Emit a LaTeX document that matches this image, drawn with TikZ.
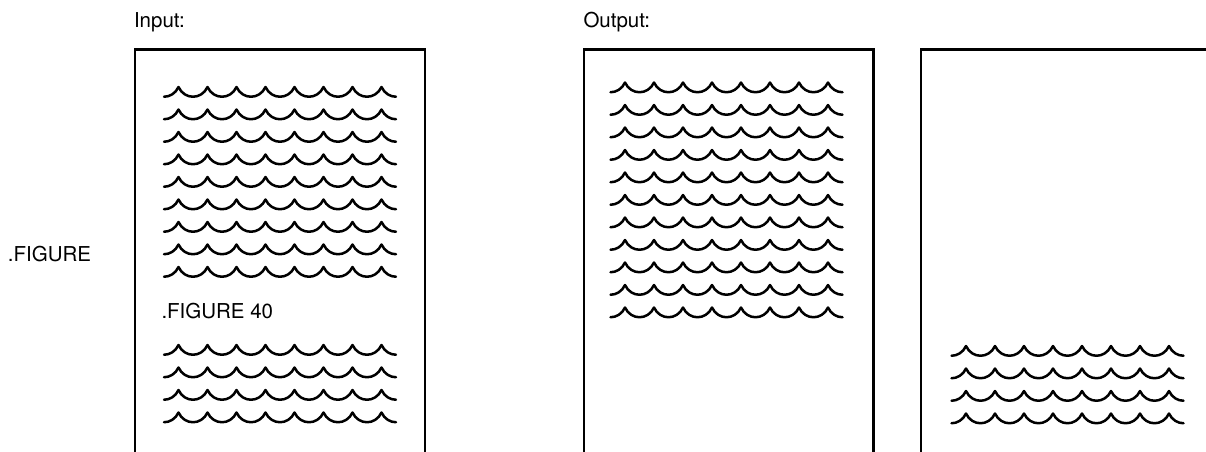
\documentclass[tikz,border=0pt]{standalone}
\usepackage{fontspec}
\setmainfont{TeX Gyre Heros}
\tikzset{
  boxline/.style={line width=2.7pt, line join=miter, line cap=butt},
  waveline/.style={line width=2.5pt, line cap=round, line join=round},
  lbl/.style={inner sep=0pt, outer sep=0pt, font=\fontsize{20.5}{24}\selectfont, anchor=base west},
  wave/.pic={
    \draw[waveline] (-14.5,9.75) .. controls (-8.75,9.75) and (-3,6.5) .. (0,0)
      \foreach \k in {0,...,6}{
        .. controls ({29*\k+6},13) and ({29*\k+23},13) .. ({29*(\k+1)},0)
      }
      .. controls (206,6.5) and (211.75,9.75) .. (217.5,9.75);
  }
}
\begin{document}
\begin{tikzpicture}[x=1pt,y=-1pt]
\useasboundingbox (0,0) rectangle (1206,451);
\clip (0,0) rectangle (1206,451);
% labels
\node[lbl] (inlbl) at (134,27) {Input:};
\node[lbl] (outlbl) at (583.5,27) {Output:};
\node[lbl] (figlbl) at (8,261) {.FIGURE};
% boxes
\draw[boxline] (135,455) -- (135,49.5) -- (425,49.5) -- (425,455);
\draw[boxline] (584,455) -- (584,49.5) -- (873.5,49.5) -- (873.5,455);
\draw[boxline] (921,455) -- (921,49.5) -- (1210,49.5);
% input text lines
\foreach \i in {0,...,8} \pic at (178.5,{87+22.5*\i}) {wave};
\node[lbl] (fig40) at (161.5,318) {.FIGURE 40};
\foreach \i in {0,...,3} \pic at (178.5,{345+22.5*\i}) {wave};
% output page 1
\foreach \i in {0,...,10} \pic at (625,{82.5+22.5*\i}) {wave};
% output page 2
\foreach \i in {0,...,3} \pic at (966,{346+22.5*\i}) {wave};
\end{tikzpicture}
\end{document}
